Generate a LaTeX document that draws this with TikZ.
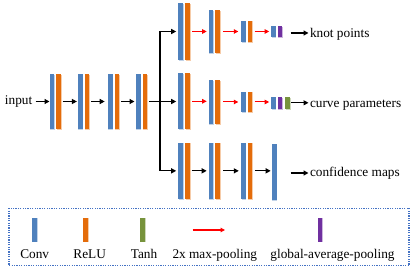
\documentclass[tikz,border=0pt]{standalone}
\usepackage{fontspec}
\setmainfont{Liberation Serif}
\usetikzlibrary{arrows.meta}
\definecolor{cblue}{HTML}{4F81BD}
\definecolor{corange}{HTML}{E46C0A}
\definecolor{cgreen}{HTML}{77933C}
\definecolor{cpurple}{HTML}{7030A0}
\definecolor{cbox}{HTML}{4472C4}
\tikzset{
  barbase/.style={rectangle, inner sep=0pt, outer sep=0pt, minimum width=4.8pt},
  convbar/.style={barbase, fill=cblue, preaction={fill=cblue!35, transform canvas={xshift=0.7pt,yshift=-0.7pt}}},
  relubar/.style={barbase, fill=corange, preaction={fill=corange!35, transform canvas={xshift=0.7pt,yshift=-0.7pt}}},
  tanhbar/.style={barbase, fill=cgreen, preaction={fill=cgreen!35, transform canvas={xshift=0.7pt,yshift=-0.7pt}}},
  gapbar/.style={barbase, fill=cpurple, preaction={fill=cpurple!35, transform canvas={xshift=0.7pt,yshift=-0.7pt}}},
  arr/.style={draw=black, line width=1.3pt, -{Triangle[length=5pt,width=5pt]}},
  plainline/.style={draw=black, line width=1.3pt},
  redarr/.style={draw=red, line width=1pt, -{Triangle[length=4.5pt,width=4.5pt]}},
  txt/.style={inner sep=0pt, outer sep=0pt, anchor=base west},
  legtxt/.style={inner sep=0pt, outer sep=0pt, anchor=base},
  legbox/.style={draw=cbox, line width=1.2pt, dash pattern=on 1.2pt off 1.2pt},
}
\newcommand\pairCR[4]{%
  \node[convbar, minimum height={#4-#3}] (#1c) at ({#2+2.4},{(#3+#4)/2}) {};
  \node[relubar, minimum height={#4-#3}] (#1r) at ({#2+9.2},{(#3+#4)/2}) {};}
\begin{document}
\begin{tikzpicture}[x=1pt,y=-1pt,font=\fontsize{13.3}{15}\selectfont]
\useasboundingbox (0,0) rectangle (415,272);

% input and main trunk
\node[txt] (in) at (5,105) {input};
\pairCR{m1}{49.5}{74}{129}
\pairCR{m2}{77.7}{74}{129}
\pairCR{m3}{107.7}{74}{129}
\pairCR{m4}{135.7}{74}{129}
\draw[arr, shorten <=3.4pt] (in.east |- m1c) -- (m1c.west);
\draw[arr, shorten <=1.6pt, shorten >=0.8pt] (m1r.east) -- (m2c.west);
\draw[arr, shorten <=1.7pt, shorten >=3pt] (m2r.east) -- (m3c.west);
\draw[arr, shorten <=1.7pt, shorten >=1.2pt] (m3r.east) -- (m4c.west);

% top row
\pairCR{t1}{178.2}{3}{60}
\pairCR{t2}{208.5}{10}{53}
\pairCR{t3}{240.8}{20.7}{42.3}
\node[convbar, minimum height=11.3] (t4c) at (273.2,31.8) {};
\node[gapbar, minimum height=11.3] (t4p) at (280.0,31.8) {};

% middle row
\pairCR{p1}{178.2}{73.3}{129.3}
\pairCR{p2}{208.5}{80}{124}
\pairCR{p3}{240.8}{91.7}{112.3}
\node[convbar, minimum height=11.7] (p4c) at (273.2,103) {};
\node[gapbar, minimum height=11.7] (p4p) at (280.0,103) {};
\node[tanhbar, minimum height=11.7] (p4g) at (287.6,103) {};

% bottom row
\pairCR{f1}{178.2}{142.7}{199}
\pairCR{f2}{208.5}{142.7}{199}
\pairCR{f3}{240.8}{142.7}{199}
\node[convbar, minimum height=56] (f4c) at (274.1,172) {};

% branching
\coordinate (br) at (160,101.5);
\draw[plainline, shorten <=1.6pt] (m4r.east) -- (br);
\draw[plainline] (br |- t1c) -- (br |- f1c);
\draw[arr, shorten >=2pt] (br |- t1c) -- (t1c.west);
\draw[arr, shorten >=2pt] (br) -- (br -| p1c.west);
\draw[arr, shorten >=2pt] (br |- f1c) -- (f1c.west);

% top row pooling arrows
\draw[redarr, shorten <=2.5pt, shorten >=1.8pt] (t1r.east) -- (t1r.east -| t2c.west);
\draw[redarr, shorten <=3.2pt, shorten >=2.5pt] (t2r.east) -- (t2r.east -| t3c.west);
\draw[redarr, shorten <=2.3pt, shorten >=1.6pt] (t3r.east) -- (t3r.east -| t4c.west);
% middle row pooling arrows
\draw[redarr, shorten <=2.5pt, shorten >=1.8pt] (p1r.east) -- (p1r.east -| p2c.west);
\draw[redarr, shorten <=3.2pt, shorten >=2.5pt] (p2r.east) -- (p2r.east -| p3c.west);
\draw[redarr, shorten <=2.3pt, shorten >=1.6pt] (p3r.east) -- (p3r.east -| p4c.west);
% bottom row arrows
\draw[arr, shorten <=1.9pt, shorten >=1.8pt] (f1r.east) -- (f1r.east -| f2c.west);
\draw[arr, shorten <=3.2pt, shorten >=2pt] (f2r.east) -- (f2r.east -| f3c.west);
\draw[arr, shorten <=2.5pt, shorten >=1pt] (f3r.east) -- (f3r.east -| f4c.west);

% outputs
\node[txt] (kp) at (310,38) {knot points};
\node[txt] (cp) at (310,107.5) {curve parameters};
\node[txt] (fp) at (310,176.5) {confidence maps};
\coordinate (ko) at (290.7,33);
\coordinate (co) at (291.2,102.8);
\coordinate (fo) at (290.7,173);
\draw[arr, shorten >=1.5pt] (ko) -- (ko -| kp.west);
\draw[arr, shorten >=1.5pt] (co) -- (co -| cp.west);
\draw[arr, shorten >=1.5pt] (fo) -- (fo -| fp.west);

% legend
\draw[legbox] (9,208.3) rectangle (409,265.7);
\node[convbar, minimum height=24] (lc) at (34.5,229.7) {};
\node[relubar, minimum height=24] (lr) at (85.8,229.7) {};
\node[tanhbar, minimum height=24] (lt) at (142.5,229.7) {};
\node[gapbar, minimum height=24] (lp) at (320,229.7) {};
\coordinate (la) at (192.7,230);
\coordinate (lb) at (225,230);
\draw[redarr, line width=1.5pt] (la) -- (lb);
\node[legtxt] (lcl) at (34.7,258.8) {Conv};
\node[legtxt] (lrl) at (89.7,258.8) {ReLU};
\node[legtxt] (ltl) at (144,258.8) {Tanh};
\node[legtxt] (lal) at (214.8,258.8) {2x max-pooling};
\node[legtxt] (lpl) at (332.5,258.8) {global-average-pooling};
\end{tikzpicture}
\end{document}
